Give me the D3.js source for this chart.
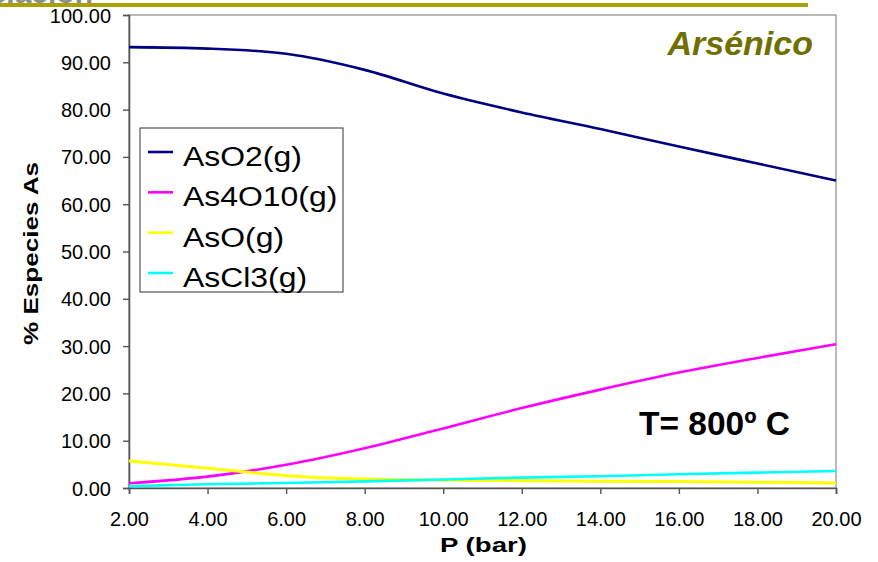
<!DOCTYPE html>
<html>
<head>
<meta charset="utf-8">
<script src="https://cdn.jsdelivr.net/npm/d3@7"></script>
<style>
  html, body { margin: 0; padding: 0; background: #fff; }
  svg { display: block; }
  text { font-family: Arial, "Liberation Sans", sans-serif; }
</style>
</head>
<body>
<svg id="chart" width="878" height="562"></svg>
<script>
// ---- data ----
const pressure = [2, 4, 6, 8, 10, 12, 14, 16, 18, 20];
const seriesNames = ["AsO2(g)", "As4O10(g)", "AsO(g)", "AsCl3(g)"];
const asO2   = [93.2, 92.9, 91.8, 88.4, 83.4, 79.4, 75.9, 72.2, 68.6, 65.0];
const as4O10 = [1.0, 2.4, 4.9, 8.4, 12.6, 16.9, 20.8, 24.4, 27.5, 30.4];
const asO    = [5.7, 4.2, 2.6, 1.9, 1.7, 1.55, 1.45, 1.35, 1.2, 1.05];
const asCl3  = [0.4, 0.8, 1.05, 1.4, 1.8, 2.2, 2.5, 2.9, 3.25, 3.6];
const seriesColors = ["#000080", "#ff00ff", "#ffff00", "#00ffff"];
const xTicks = [2, 4, 6, 8, 10, 12, 14, 16, 18, 20];
const yTicks = [0, 10, 20, 30, 40, 50, 60, 70, 80, 90, 100];

const series = [asO2, as4O10, asO, asCl3].map((vals, i) => ({
  name: seriesNames[i], color: seriesColors[i],
  points: vals.map((v, j) => ({ p: pressure[j], v }))
}));

const svg = d3.select("#chart");
const plot = { left: 129, right: 836, top: 15, bottom: 488 };
const x = d3.scaleLinear().domain([2, 20]).range([plot.left, plot.right]);
const y = d3.scaleLinear().domain([0, 100]).range([plot.bottom, plot.top]);

// header remnants
svg.append("text").attr("x", 93).attr("y", 3).attr("text-anchor", "end")
  .attr("font-size", 30).attr("font-weight", "bold").attr("fill", "#8c8c8c")
  .text("Especiación");
svg.append("rect").attr("x", 0).attr("y", 3).attr("width", 808).attr("height", 4)
  .attr("fill", "#a8a200");

// plot frame
svg.append("rect").attr("x", plot.left).attr("y", plot.top)
  .attr("width", plot.right - plot.left).attr("height", plot.bottom - plot.top)
  .attr("fill", "#fff").attr("stroke", "#8a8a8a").attr("stroke-width", 1.2);

// axes
const yAxis = d3.axisLeft(y).tickValues(yTicks).tickSize(6).tickPadding(12)
  .tickFormat(d3.format(".2f"));
const xAxis = d3.axisBottom(x).tickValues(xTicks).tickSize(6).tickPadding(18)
  .tickFormat(d3.format(".2f"));

const gy = svg.append("g").attr("transform", `translate(${plot.left},0)`).call(yAxis);
const gx = svg.append("g").attr("transform", `translate(0,${plot.bottom})`).call(xAxis);
[gx, gy].forEach(g => {
  g.select(".domain").attr("stroke", "#555").attr("stroke-width", 1.6);
  g.selectAll(".tick line").attr("stroke", "#555").attr("stroke-width", 1.4);
  g.selectAll(".tick text").attr("font-size", 20).attr("fill", "#000")
    .attr("font-family", "Arial, 'Liberation Sans', sans-serif");
});
gy.selectAll(".tick text").attr("dy", "0.35em");

// lines
const line = d3.line().x(d => x(d.p)).y(d => y(d.v)).curve(d3.curveMonotoneX);
svg.append("g").selectAll("path").data(series).join("path")
  .attr("d", d => line(d.points))
  .attr("fill", "none")
  .attr("stroke", d => d.color)
  .attr("stroke-width", d => d.color === "#ffff00" ? 3 : 2.6)
  .attr("stroke-linejoin", "round");

// axis titles
svg.append("text").attr("x", 483.5).attr("y", 552).attr("text-anchor", "middle")
  .attr("font-size", 21).attr("font-weight", "bold")
  .attr("textLength", 87).attr("lengthAdjust", "spacingAndGlyphs")
  .text("P (bar)");
svg.append("text").attr("transform", "translate(38,253.5) rotate(-90)")
  .attr("text-anchor", "middle").attr("font-size", 21).attr("font-weight", "bold")
  .attr("textLength", 183).attr("lengthAdjust", "spacingAndGlyphs")
  .text("% Especies As");

// annotations
svg.append("text").attr("x", 813).attr("y", 55).attr("text-anchor", "end")
  .attr("font-size", 34).attr("font-weight", "bold").attr("font-style", "italic")
  .attr("fill", "#707000").text("Arsénico");
svg.append("text").attr("x", 639).attr("y", 435)
  .attr("font-size", 34).attr("font-weight", "bold").attr("fill", "#000")
  .attr("textLength", 151).attr("lengthAdjust", "spacingAndGlyphs")
  .text("T= 800º C");

// legend
const leg = svg.append("g");
leg.append("rect").attr("x", 140).attr("y", 128).attr("width", 203).attr("height", 164)
  .attr("fill", "#fff").attr("stroke", "#333").attr("stroke-width", 1);
const rowY = d3.scalePoint().domain(seriesNames).range([152, 273]);
const items = leg.selectAll("g.item").data(series).join("g").attr("class", "item")
  .attr("transform", d => `translate(0,${rowY(d.name)})`);
items.append("line").attr("x1", 148).attr("x2", 173).attr("y1", 0).attr("y2", 0)
  .attr("stroke", d => d.color).attr("stroke-width", 2.6);
items.append("text").attr("transform", "translate(183,14) scale(1.14,1)")
  .attr("font-size", 28).attr("fill", "#000").text(d => d.name);
</script>
</body>
</html>
